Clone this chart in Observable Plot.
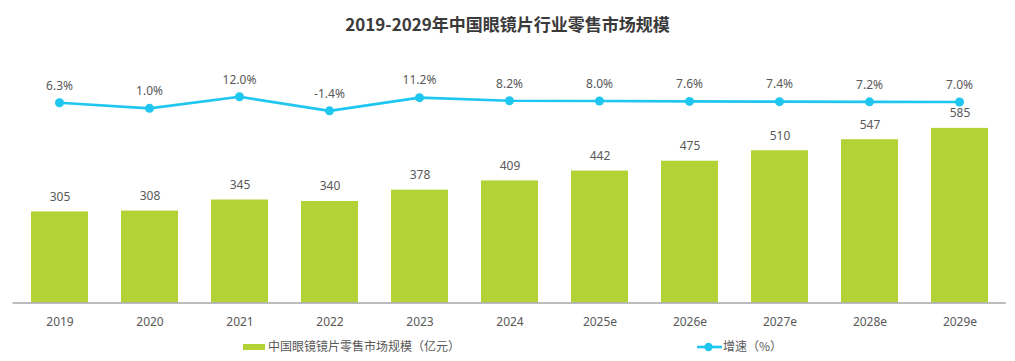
<!DOCTYPE html>
<html>
<head>
<meta charset="utf-8">
<script src="https://cdn.jsdelivr.net/npm/d3@7"></script>
<script src="https://cdn.jsdelivr.net/npm/@observablehq/plot@0.6"></script>
<style>
  html, body { margin: 0; padding: 0; background: #fff; }
  body { width: 1015px; height: 361px; position: relative; overflow: hidden;
         font-family: "Noto Sans", "Noto Sans CJK SC", sans-serif; }
  #title { position: absolute; left: 0; top: 0; width: 1015px; height: 48px;
           text-align: center; font-family: "Noto Sans CJK SC", sans-serif;
           font-weight: bold; font-size: 17px; line-height: 48px; color: #3a3a3a; }
  #chart { position: absolute; left: 0; top: 48px; width: 1015px; height: 284px; }
  #chart svg { position: absolute; left: 0; top: 0; }
  .leg { position: absolute; top: 336px; height: 20px; line-height: 20px;
         font-family: "Noto Sans CJK SC", sans-serif; font-size: 12px; color: #595959;
         white-space: nowrap; }
</style>
</head>
<body>
<div id="title"></div>
<div id="chart"></div>
<div class="leg" id="leg1" style="left:243px;"></div>
<div class="leg" id="leg2" style="left:697px;"></div>
<script>
const title = "2019-2029年中国眼镜片行业零售市场规模";
const years = ["2019","2020","2021","2022","2023","2024","2025e","2026e","2027e","2028e","2029e"];
const marketSize = [305, 308, 345, 340, 378, 409, 442, 475, 510, 547, 585];
const growth = [6.3, 1.0, 12.0, -1.4, 11.2, 8.2, 8.0, 7.6, 7.4, 7.2, 7.0];
const growthLabels = ["6.3%","1.0%","12.0%","-1.4%","11.2%","8.2%","8.0%","7.6%","7.4%","7.2%","7.0%"];
const barName = "中国眼镜镜片零售市场规模（亿元）";
const lineName = "增速（%）";

const barColor = "#b2d235";
const lineColor = "#1fc6f0";
const textColor = "#595959";

const data = years.map((y, i) => ({year: y, value: marketSize[i], g: growth[i], gl: growthLabels[i]}));

document.getElementById("title").textContent = title;

const W = 1015, H = 284;
const xOpts = {domain: years, paddingInner: 0.372, paddingOuter: 0.186};
const common = {width: W, height: H, marginLeft: 12.5, marginRight: 9.2,
  style: {fontFamily: '"Noto Sans", "Noto Sans CJK SC", sans-serif', fontSize: "12px", background: "transparent", overflow: "visible"}};

const barPlot = Plot.plot({
  ...common,
  marginTop: 15.7, marginBottom: 29.5,
  x: {...xOpts, label: null},
  y: {domain: [0, 800], axis: null},
  marks: [
    Plot.barY(data, {x: "year", y: "value", fill: barColor}),
    Plot.ruleY([0], {stroke: "#a6a6a6", strokeWidth: 1.5}),
    Plot.text(data, {x: "year", y: "value", text: d => String(d.value), dy: -15, fill: textColor, fontSize: 12}),
    Plot.axisX({tickSize: 0, tickPadding: 14, fontSize: 12, color: textColor, label: null})
  ]
});

const linePlot = Plot.plot({
  ...common,
  marginTop: 0, marginBottom: 0,
  x: {...xOpts, axis: null},
  y: {domain: [0, 10], range: [60.9, 50.4], axis: null},
  marks: [
    Plot.lineY(data, {x: "year", y: "g", stroke: lineColor, strokeWidth: 2.6}),
    Plot.dot(data, {x: "year", y: "g", r: 4.5, fill: lineColor}),
    Plot.text(data, {x: "year", y: "g", text: "gl", dy: -17, fill: textColor, fontSize: 12})
  ]
});

const chart = document.getElementById("chart");
chart.appendChild(barPlot);
chart.appendChild(linePlot);

// Legend
const leg1 = document.getElementById("leg1");
leg1.innerHTML = `<span style="display:inline-block;width:22px;height:6px;background:${barColor};vertical-align:middle;margin-right:3px;position:relative;top:-1px"></span><span></span>`;
leg1.lastChild.textContent = barName;

const leg2 = document.getElementById("leg2");
leg2.innerHTML = `<svg width="25" height="12" style="vertical-align:middle;position:relative;top:-1px;margin-right:1px"><line x1="0" y1="6" x2="25" y2="6" stroke="${lineColor}" stroke-width="2.6"/><circle cx="11.5" cy="6" r="4.2" fill="${lineColor}"/></svg><span></span>`;
leg2.lastChild.textContent = lineName;
</script>
</body>
</html>
